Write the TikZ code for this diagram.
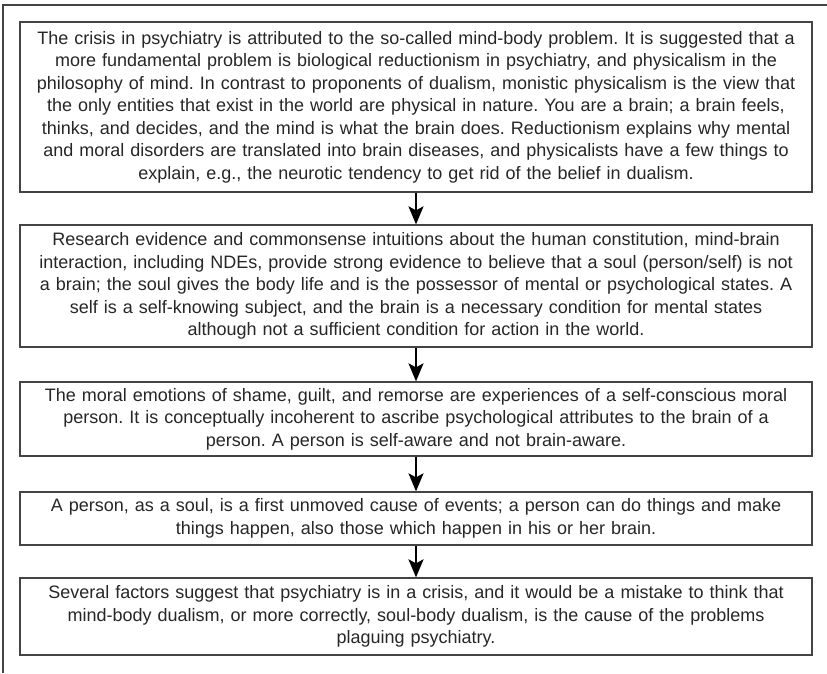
\documentclass[tikz,border=0pt]{standalone}
\usepackage{fontspec}
\setmainfont{Liberation Sans}
\usetikzlibrary{arrows.meta}
\definecolor{framegray}{HTML}{444444}
\definecolor{textgray}{HTML}{262626}
\tikzset{
  textbox/.style={draw=framegray, line width=1.3pt, text=textgray,
    minimum width=792pt, text width=786pt, inner sep=0pt, align=center,
    font=\frenchspacing\fontsize{18}{22.5}\selectfont},
  flowarrow/.style={-{Stealth[length=18pt,width=15pt,inset=4pt]}, line width=2pt, black}
}
\begin{document}
\begin{tikzpicture}[x=1pt, y=-1pt]
      \useasboundingbox (0,0) rectangle (827,673);
      \draw[framegray, line width=1.2pt] (3,673) -- (3,5) -- (827,5);
      \node[textbox, minimum height=170pt] (crisis) at (416,107)
        {The crisis in psychiatry is attributed to the so-called mind-body problem. It is suggested that a\\
         more fundamental problem is biological reductionism in psychiatry, and physicalism in the\\
         philosophy of mind. In contrast to proponents of dualism, monistic physicalism is the view that\\
         the only entities that exist in the world are physical in nature. You are a brain; a brain feels,\\
         thinks, and decides, and the mind is what the brain does. Reductionism explains why mental\\
         and moral disorders are translated into brain diseases, and physicalists have a few things to\\
         explain, e.g., the neurotic tendency to get rid of the belief in dualism.};
      \node[textbox, minimum height=122pt] (soul) at (416,286)
        {Research evidence and commonsense intuitions about the human constitution, mind-brain\\
         interaction, including NDEs, provide strong evidence to believe that a soul (person/self) is not\\
         a brain; the soul gives the body life and is the possessor of mental or psychological states. A\\
         self is a self-knowing subject, and the brain is a necessary condition for mental states\\
         although not a sufficient condition for action in the world.};
      \node[textbox, minimum height=74pt] (moral) at (416,419)
        {The moral emotions of shame, guilt, and remorse are experiences of a self-conscious moral\\
         person. It is conceptually incoherent to ascribe psychological attributes to the brain of a\\
         person. A person is self-aware and not brain-aware.};
      \node[textbox, minimum height=53pt] (cause) at (416,518.5)
        {A person, as a soul, is a first unmoved cause of events; a person can do things and make\\
         things happen, also those which happen in his or her brain.};
      \node[textbox, minimum height=77pt] (mistake) at (416,616.5)
        {Several factors suggest that psychiatry is in a crisis, and it would be a mistake to think that\\
         mind-body dualism, or more correctly, soul-body dualism, is the cause of the problems\\
         plaguing psychiatry.};
      \begin{scope}[flowarrow]
        \draw (crisis) to (soul);
        \draw (soul) to (moral);
        \draw (moral) to (cause);
        \draw (cause) to (mistake);
      \end{scope}
    \end{tikzpicture}
\end{document}
